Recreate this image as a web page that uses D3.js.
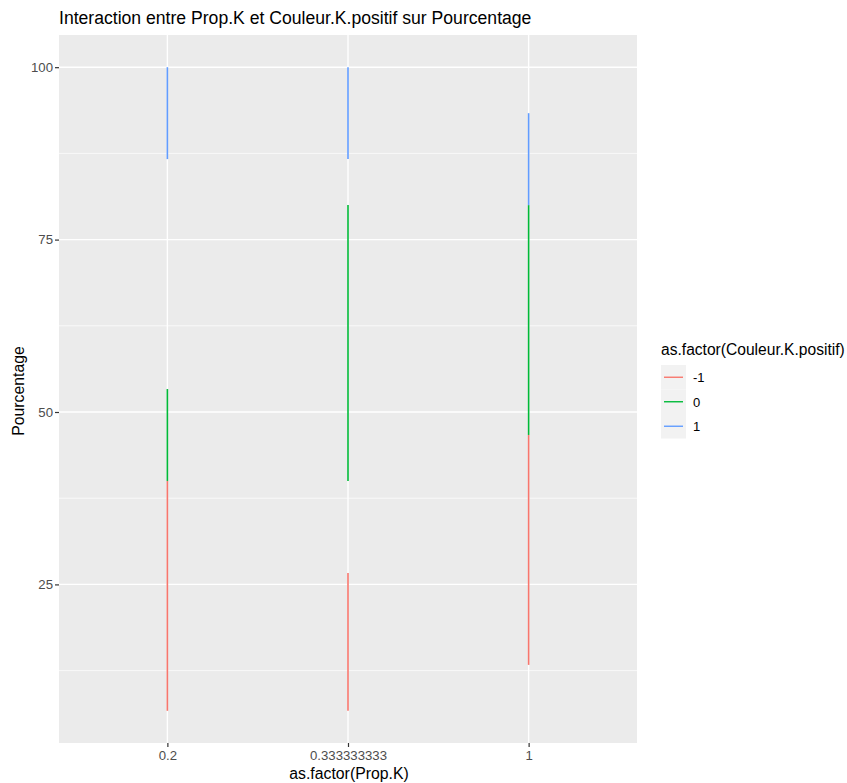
<!DOCTYPE html>
<html>
<head>
<meta charset="utf-8">
<script src="https://cdn.jsdelivr.net/npm/d3@7"></script>
<style>
  body { margin: 0; background: #fff; }
  text { font-family: "Liberation Sans", Arial, sans-serif; }
</style>
</head>
<body>
<svg id="chart" width="847" height="783"></svg>
<script>
// data
var propK = ["0.2", "0.333333333", "1"];
var groups = ["-1", "0", "1"];
var colors = ["#F8766D", "#00BA38", "#619CFF"];
// low / high for each group, in the order of propK
var lowNeg = [6.67, 6.67, 13.33], highNeg = [40, 26.67, 46.67];
var lowZero = [40, 40, 46.67], highZero = [53.33, 80, 80];
var lowPos = [86.67, 86.67, 80], highPos = [100, 100, 93.33];
var yTicks = [25, 50, 75, 100];
var yMinor = [12.5, 37.5, 62.5, 87.5];

var segs = [];
[[lowNeg, highNeg], [lowZero, highZero], [lowPos, highPos]].forEach(function(p, gi) {
    propK.forEach(function(k, i) {
        segs.push({k: k, group: groups[gi], lo: p[0][i], hi: p[1][i]});
    });
});

var margin = {top: 35, left: 59},
    width = 637 - margin.left,
    height = 743 - margin.top;

var svg = d3.select("#chart");
var g = svg.append("g")
    .attr("transform", "translate(" + margin.left + "," + margin.top + ")");

var x = d3.scalePoint().domain(propK).range([0, width]).padding(0.6);
var yMin = d3.min(segs, function(d) { return d.lo; }),
    yMax = d3.max(segs, function(d) { return d.hi; });
var pad = (yMax - yMin) * 0.05;
var y = d3.scaleLinear().domain([yMin - pad, yMax + pad]).range([height, 0]);

// panel
g.append("rect").attr("width", width).attr("height", height).attr("fill", "#EBEBEB");

g.selectAll(".minor").data(yMinor).enter().append("line")
    .attr("x1", 0).attr("x2", width)
    .attr("y1", function(d) { return y(d); }).attr("y2", function(d) { return y(d); })
    .attr("stroke", "#fff").attr("stroke-width", 0.7);
g.selectAll(".major").data(yTicks).enter().append("line")
    .attr("x1", 0).attr("x2", width)
    .attr("y1", function(d) { return y(d); }).attr("y2", function(d) { return y(d); })
    .attr("stroke", "#fff").attr("stroke-width", 1.4);
g.selectAll(".vmajor").data(propK).enter().append("line")
    .attr("x1", function(d) { return x(d); }).attr("x2", function(d) { return x(d); })
    .attr("y1", 0).attr("y2", height)
    .attr("stroke", "#fff").attr("stroke-width", 1.4);

var color = d3.scaleOrdinal().domain(groups).range(colors);

g.selectAll(".seg").data(segs).enter().append("line")
    .attr("x1", function(d) { return x(d.k); }).attr("x2", function(d) { return x(d.k); })
    .attr("y1", function(d) { return y(d.lo); }).attr("y2", function(d) { return y(d.hi); })
    .attr("stroke", function(d) { return color(d.group); })
    .attr("stroke-width", 1.6);

// axes
var yAxis = g.append("g")
    .call(d3.axisLeft(y).tickValues(yTicks).tickSize(4).tickPadding(2));
var xAxis = g.append("g")
    .attr("transform", "translate(0," + height + ")")
    .call(d3.axisBottom(x).tickSize(4).tickPadding(4));
[yAxis, xAxis].forEach(function(a) {
    a.select(".domain").remove();
    a.selectAll(".tick line").attr("stroke", "#333").attr("stroke-width", 1.2);
    a.selectAll(".tick text").attr("fill", "#4D4D4D").style("font-size", "13.2px");
});

// titles
svg.append("text").attr("x", 59).attr("y", 24)
    .style("font-size", "17.6px").attr("fill", "#000")
    .text("Interaction entre Prop.K et Couleur.K.positif sur Pourcentage");
svg.append("text").attr("x", margin.left + width / 2 + 1).attr("y", 779)
    .attr("text-anchor", "middle").style("font-size", "15.8px")
    .text("as.factor(Prop.K)");
svg.append("text")
    .attr("transform", "translate(24," + (margin.top + height / 2 + 2) + ") rotate(-90)")
    .attr("text-anchor", "middle").style("font-size", "15.8px")
    .text("Pourcentage");

// legend
var leg = svg.append("g").attr("transform", "translate(661,0)");
leg.append("text").attr("x", 0).attr("y", 355).style("font-size", "15.6px")
    .text("as.factor(Couleur.K.positif)");
var item = leg.selectAll(".item").data(groups).enter().append("g")
    .attr("transform", function(d, i) { return "translate(0," + (365 + i * 24.5) + ")"; });
item.append("rect").attr("width", 25).attr("height", 24.5).attr("fill", "#F2F2F2");
item.append("line").attr("x1", 3).attr("x2", 22).attr("y1", 12.25).attr("y2", 12.25)
    .attr("stroke", function(d) { return color(d); }).attr("stroke-width", 1.4);
item.append("text").attr("x", 32).attr("y", 17).style("font-size", "13px")
    .attr("fill", "#000").text(function(d) { return d; });
</script>
</body>
</html>
